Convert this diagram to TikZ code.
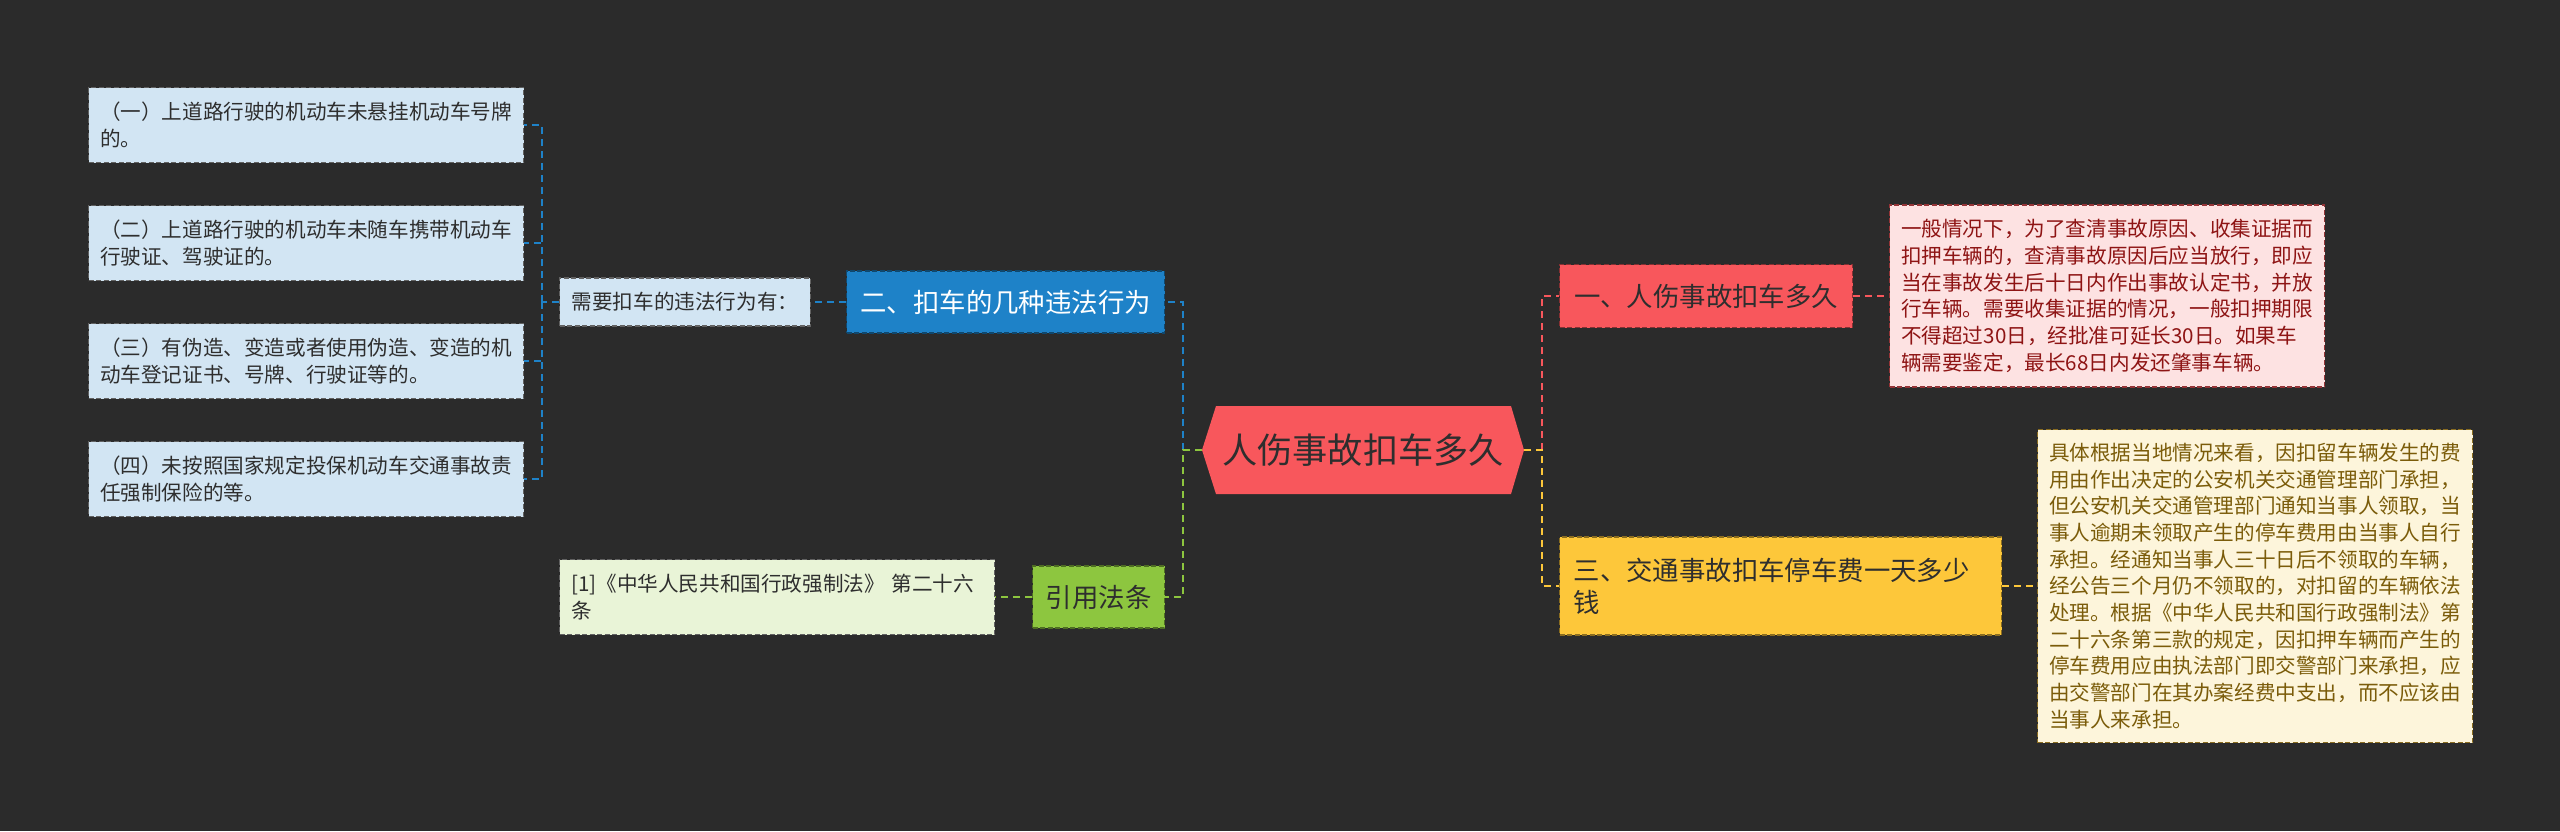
\documentclass[tikz,border=0pt]{standalone}
\usepackage{fontspec}
\setmainfont{Noto Sans CJK SC}
\usetikzlibrary{positioning, calc, backgrounds}
\definecolor{cbg}{HTML}{2B2B2B}
\definecolor{cblue}{HTML}{1E82C8}
\definecolor{cgreen}{HTML}{8DC63F}
\definecolor{cred}{HTML}{F8575C}
\definecolor{cyellow}{HTML}{FDC73A}
\definecolor{cleaf}{HTML}{D2E5F3}
\definecolor{ccite}{HTML}{E9F4D7}
\definecolor{cpinkbg}{HTML}{FDE2E2}
\definecolor{cpinktx}{HTML}{8E1414}
\definecolor{cbeige}{HTML}{FDF5DB}
\definecolor{cbrown}{HTML}{7B5C0A}
\definecolor{cdark}{HTML}{2E2E2E}
\newcommand{\fsmall}{\fontsize{20.6pt}{26.7pt}\selectfont}
\newcommand{\fbig}{\fontsize{26.4pt}{32pt}\selectfont}
\newcommand{\froot}{\fontsize{35.2pt}{40pt}\selectfont}
\tikzset{
  every picture/.style={line width=2pt},
  link/.style={draw=#1, line width=2pt, dash pattern=on 7pt off 5pt},
  detail/.style={rectangle, fill=#1, draw=cdark!75, line width=1.3pt, dash pattern=on 5pt off 2.5pt,
    align=left, text width=412pt, inner xsep=11.5pt, inner ysep=0pt, font=\fsmall, text=cdark, anchor=west},
  topic/.style={rectangle, fill=#1, draw=#1!55!black, line width=1.3pt, dash pattern=on 5pt off 2.5pt,
    inner xsep=13pt, inner ysep=0pt, font=\fbig, text=cdark, anchor=west, minimum height=62pt},
}

\begin{document}
\begin{tikzpicture}[x=1pt, y=-1pt]
  \begin{scope}[on background layer]
    \fill[cbg] (0,0) rectangle (2560,831);
  \end{scope}
  \useasboundingbox (0,0) rectangle (2560,831);

  % centre
  \node[font=\froot, text=cdark, minimum width=320pt, minimum height=86pt, inner sep=0pt] (root) at (1363,450) {人伤事故扣车多久};
  \begin{scope}[on background layer]
    \fill[cred] (root.west) -- ([xshift=14pt]root.north west) -- ([xshift=-13pt]root.north east)
      -- (root.east) -- ([xshift=-13pt]root.south east) -- ([xshift=14pt]root.south west) -- cycle;
  \end{scope}

  % left branches
  \node[topic=cblue, text=white, minimum width=318pt] (viol) at (846,302) {二、扣车的几种违法行为};
  \node[detail=cleaf, text width=, inner xsep=12pt, minimum height=48pt] (need) at (559,302) {需要扣车的违法行为有：};
  \node[detail=cleaf, minimum height=75pt] (l1) at (88,125) {（一）上道路行驶的机动车未悬挂机动车号牌\\的。};
  \node[detail=cleaf, minimum height=75pt] (l2) at (88,243) {（二）上道路行驶的机动车未随车携带机动车\\行驶证、驾驶证的。};
  \node[detail=cleaf, minimum height=75pt] (l3) at (88,361) {（三）有伪造、变造或者使用伪造、变造的机\\动车登记证书、号牌、行驶证等的。};
  \node[detail=cleaf, minimum height=75pt] (l4) at (88,479) {（四）未按照国家规定投保机动车交通事故责\\任强制保险的等。};
  \node[topic=cgreen, minimum width=132pt] (law) at (1032,597) {引用法条};
  \node[detail=ccite, minimum height=75pt] (cite) at (559,597) {[1]《中华人民共和国行政强制法》 第二十六\\条};

  % right branches
  \node[topic=cred, minimum width=293pt, minimum height=63pt] (hold) at (1559,296) {一、人伤事故扣车多久};
  \node[detail=cpinkbg, draw=cred!60!black, text=cpinktx, minimum height=182pt] (holdtx) at (1889,296) {一般情况下，为了查清事故原因、收集证据而\\扣押车辆的，查清事故原因后应当放行，即应\\当在事故发生后十日内作出事故认定书，并放\\行车辆。需要收集证据的情况，一般扣押期限\\不得超过30日，经批准可延长30日。如果车\\辆需要鉴定，最长68日内发还肇事车辆。};
  \node[topic=cyellow, align=left, text width=414pt, inner xsep=14pt, minimum height=98pt] (fee) at (1559,586) {三、交通事故扣车停车费一天多少\\钱};
  \node[detail=cbeige, draw=cyellow!55!black, text=cbrown, minimum height=313pt] (feetx) at (2037,586) {具体根据当地情况来看，因扣留车辆发生的费\\用由作出决定的公安机关交通管理部门承担，\\但公安机关交通管理部门通知当事人领取，当\\事人逾期未领取产生的停车费用由当事人自行\\承担。经通知当事人三十日后不领取的车辆，\\经公告三个月仍不领取的，对扣留的车辆依法\\处理。根据《中华人民共和国行政强制法》第\\二十六条第三款的规定，因扣押车辆而产生的\\停车费用应由执法部门即交警部门来承担，应\\由交警部门在其办案经费中支出，而不应该由\\当事人来承担。};

  % connectors
  \coordinate (lhub) at ($(root.west)+(-19,0)$);
  \coordinate (rhub) at ($(root.east)+(18,0)$);
  \coordinate (ltrunk) at ($(need.west)+(-17,0)$);
  \draw[link=cblue] (lhub) |- (viol.east);
  \draw[link=cgreen] (root.west) -- (lhub) |- (law.east);
  \draw[link=cred] (rhub) |- (hold.west);
  \draw[link=cyellow] (root.east) -- (rhub) |- (fee.west);
  \draw[link=cblue] (viol.west) -- (need.east);
  \draw[link=cblue] (need.west) -- (ltrunk);
  \foreach \n in {l1,l2,l3,l4}
    \draw[link=cblue] (ltrunk) |- (\n.east);
  \draw[link=cgreen] (law.west) -- (cite.east);
  \draw[link=cred] (hold.east) -- (holdtx.west);
  \draw[link=cyellow] (fee.east) -- (feetx.west);
\end{tikzpicture}
\end{document}
